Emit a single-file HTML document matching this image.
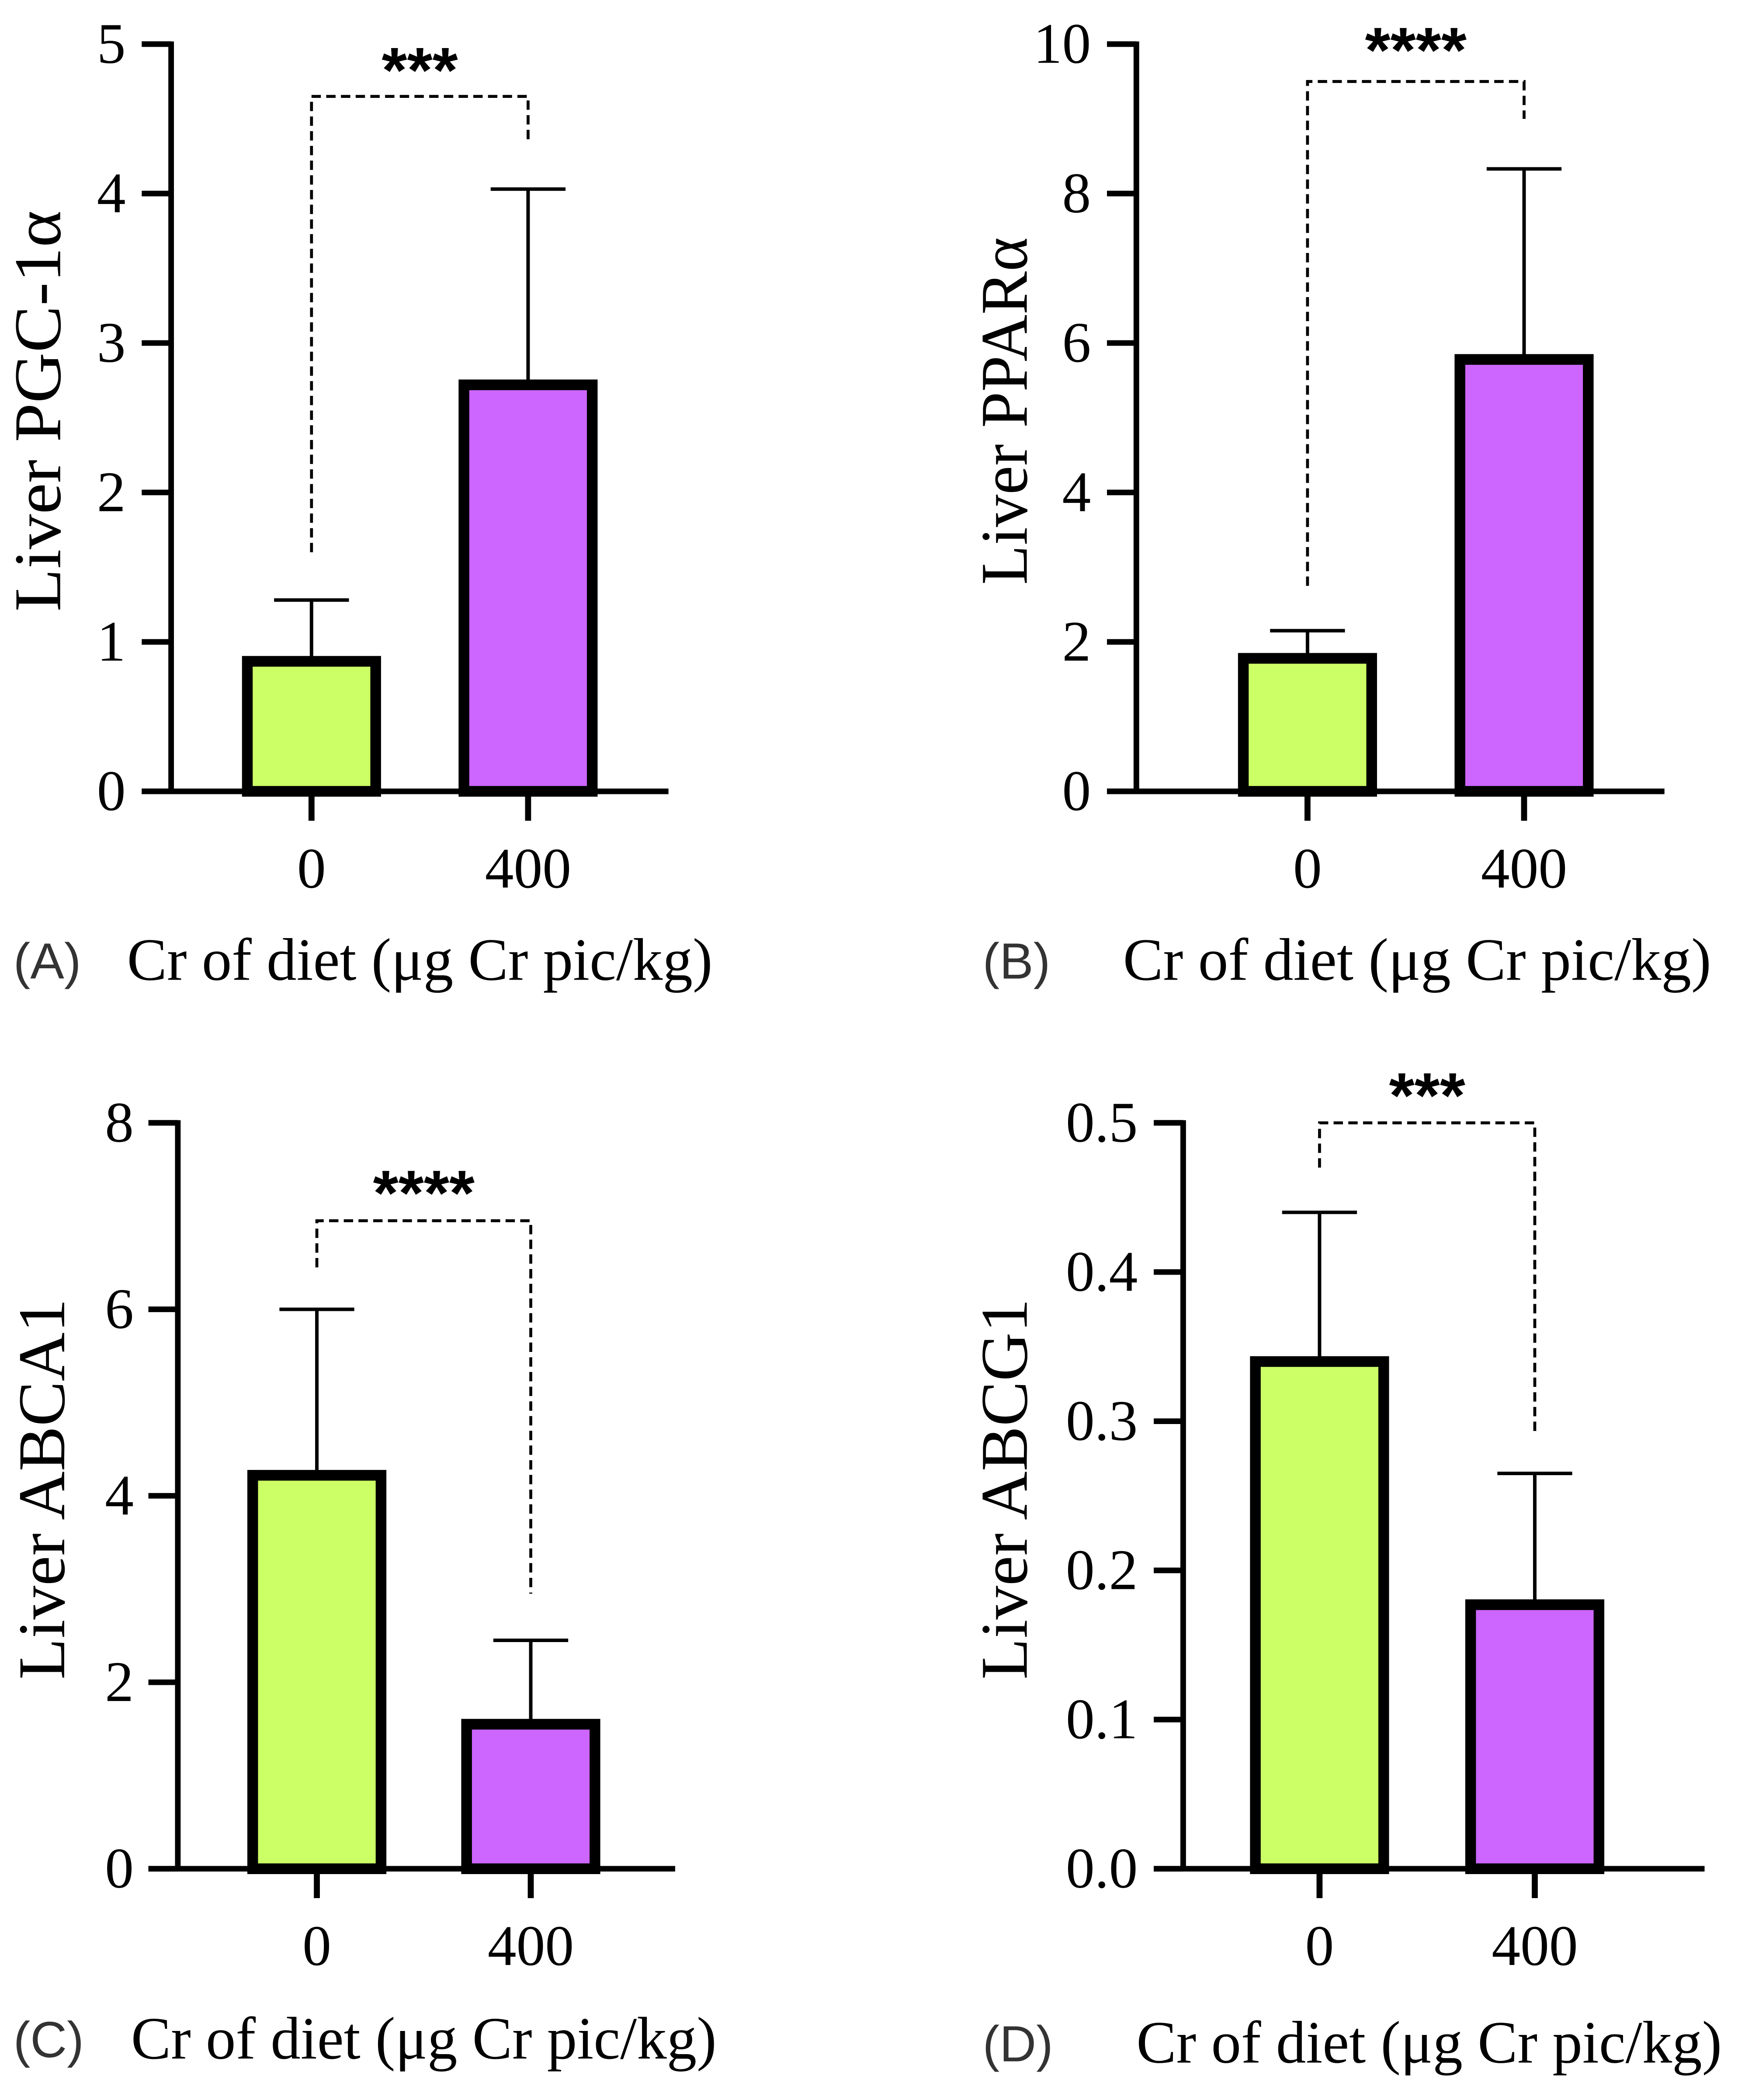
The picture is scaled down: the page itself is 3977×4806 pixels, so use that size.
<!DOCTYPE html>
<html><head><meta charset="utf-8"><style>
html,body{margin:0;padding:0;background:#fff}
svg{display:block}
</style></head><body>
<svg id="fig" xmlns="http://www.w3.org/2000/svg" width="3977" height="4806" viewBox="0 0 1300 1571">
<rect width="1300" height="1571" fill="#fff"/>
</svg>
<script>
// Panel data
const categories = ["0", "400"];
const panelLabels = ["(A)", "(B)", "(C)", "(D)"];
const yTitles = ["Liver PGC-1α", "Liver PPARα", "Liver ABCA1", "Liver ABCG1"];
const meansA = [0.87, 2.72];
const errsA = [1.28, 4.03];
const ticksA = [0, 1, 2, 3, 4, 5];
const meansB = [1.78, 5.78];
const errsB = [2.15, 8.33];
const ticksB = [0, 2, 4, 6, 8, 10];
const meansC = [4.22, 1.55];
const errsC = [6.0, 2.45];
const ticksC = [0, 2, 4, 6, 8];
const meansD = [0.34, 0.177];
const errsD = [0.44, 0.265];
const ticksD = ["0.0", "0.1", "0.2", "0.3", "0.4", "0.5"];
const sigLabels = ["***", "****", "****", "***"];
const sigLeftStart = [1.6, 2.75, 6.45, 0.47];
const sigTop = [4.65, 9.5, 6.95, 0.5];
const sigRightEnd = [4.35, 9.0, 2.95, 0.29];

const NS = "http://www.w3.org/2000/svg";
const svg = document.getElementById("fig");
function mk(tag, attrs, parent) {
  const e = document.createElementNS(NS, tag);
  for (const k in attrs) e.setAttribute(k, attrs[k]);
  (parent || svg).appendChild(e);
  return e;
}
const layouts = [
  {ax:128, top:33, bot:592, xend:500, cx:[233,395], tlx:94, ytx:45, ytl:300, lblY:718, plx:10, crx:95, crw:438, sigY:45},
  {ax:850, top:33, bot:592, xend:1245, cx:[978,1140], tlx:816, ytx:768, ytl:260, lblY:718, plx:735, crx:840, crw:440, sigY:30},
  {ax:133, top:840, bot:1398, xend:505, cx:[237,397], tlx:100, ytx:48, ytl:285, lblY:1525, plx:10, crx:98, crw:438, sigY:885},
  {ax:885, top:840, bot:1398, xend:1275, cx:[987,1148], tlx:851, ytx:768, ytl:285, lblY:1528, plx:735, crx:850, crw:438, sigY:812}
];
const meansAll = [meansA, meansB, meansC, meansD];
const errsAll = [errsA, errsB, errsC, errsD];
const ticksAll = [ticksA, ticksB, ticksC, ticksD];
const colors = ["#ccff66", "#cc66ff"];
const names = ["a","b","c","d"];

layouts.forEach((L, p) => {
  const g = mk("g", {});
  
  
  const ticks = ticksAll[p];
  const ymax = parseFloat(ticks[ticks.length - 1]);
  const y = v => L.bot - (v / ymax) * (L.bot - L.top);
  meansAll[p].forEach((m, i) => {
    const cx = L.cx[i];
    const eb = mk("line", {x1:cx, x2:cx, y1:y(m), y2:y(errsAll[p][i]), stroke:"#000", "stroke-width":2.6}, g);
    
    
    const cap = mk("line", {x1:cx-28, x2:cx+28, y1:y(errsAll[p][i]), y2:y(errsAll[p][i]), stroke:"#000", "stroke-width":2.6}, g);
    
    
    const b = mk("rect", {x:cx-48, y:y(m), width:96, height:L.bot - y(m), fill:colors[i], stroke:"#000", "stroke-width":8}, g);
    
    
  });
  const ya = mk("line", {x1:L.ax, x2:L.ax, y1:L.top-2, y2:L.bot, stroke:"#000", "stroke-width":4.2}, g);
  
  
  const xa = mk("line", {x1:L.ax-22, x2:L.xend, y1:L.bot, y2:L.bot, stroke:"#000", "stroke-width":4.2}, g);
  
  
  ticks.forEach(t => {
    const ty = y(parseFloat(t));
    const tk = mk("line", {x1:L.ax-22, x2:L.ax, y1:ty, y2:ty, stroke:"#000", "stroke-width":4.2}, g);
    
    
    const tl = mk("text", {x:L.tlx, y:ty+14, "text-anchor":"end", "font-family":"Liberation Serif, serif", "font-size":43}, g);
    tl.textContent = t;
    
    
  });
  categories.forEach((c, i) => {
    const tk = mk("line", {x1:L.cx[i], x2:L.cx[i], y1:L.bot, y2:L.bot+22, stroke:"#000", "stroke-width":4.5}, g);
    
    
    const tl = mk("text", {x:L.cx[i], y:L.bot+72, "text-anchor":"middle", "font-family":"Liberation Serif, serif", "font-size":43}, g);
    tl.textContent = c;
    
    
  });
  const yt = mk("text", {x:0, y:0, transform:`translate(${L.ytx},${(L.top+L.bot)/2 - 5}) rotate(-90)`, "text-anchor":"middle", "font-family":"Liberation Serif, serif", "font-size":50, textLength:L.ytl, lengthAdjust:"spacingAndGlyphs"}, g);
  yt.textContent = yTitles[p];
  
  
  const pl = mk("text", {x:L.plx, y:L.lblY+14, "font-family":"Liberation Sans, sans-serif", "font-size":38, fill:"#333"}, g);
  pl.textContent = panelLabels[p];
  
  
  const xt = mk("text", {x:L.crx, y:L.lblY+15, "font-family":"Liberation Serif, serif", "font-size":45, textLength:L.crw, lengthAdjust:"spacingAndGlyphs"}, g);
  xt.textContent = "Cr of diet (μg Cr pic/kg)";
  
  
  const sp = mk("path", {d:`M${L.cx[0]},${y(sigLeftStart[p])} V${y(sigTop[p])} H${L.cx[1]} V${y(sigRightEnd[p])}`, fill:"none", stroke:"#000", "stroke-width":2.2, "stroke-dasharray":"7,4"}, g);
  
  
  const st = mk("text", {x:(L.cx[0]+L.cx[1])/2, y:L.sigY+24, "text-anchor":"middle", "font-family":"Liberation Sans, sans-serif", "font-weight":"bold", "font-size":48, textLength:sigLabels[p].length*19, lengthAdjust:"spacingAndGlyphs"}, g);
  st.textContent = sigLabels[p];
  
  
});
</script>
</body></html>
